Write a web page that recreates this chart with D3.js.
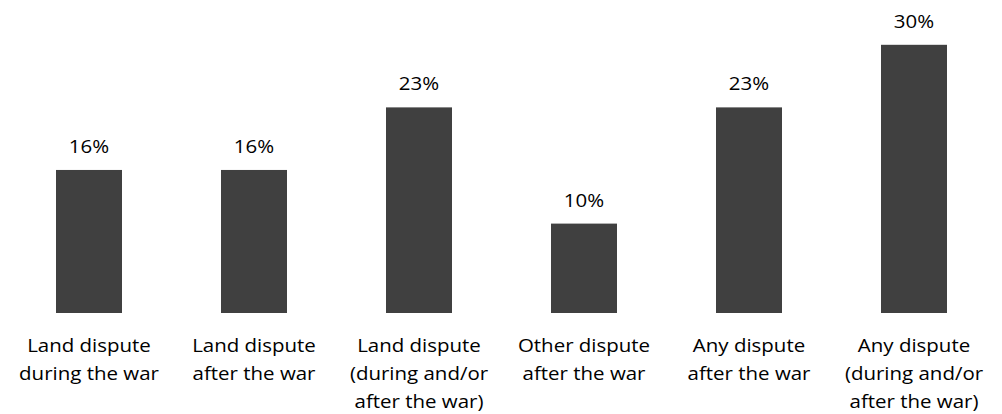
<!DOCTYPE html>
<html>
<head>
<meta charset="utf-8">
<script src="https://cdn.jsdelivr.net/npm/d3@7"></script>
<style>
  html, body { margin: 0; padding: 0; background: #fff; }
  svg { display: block; }
  text { font-family: "Open Sans", Lato, sans-serif; fill: #000; }
</style>
</head>
<body>
<svg id="chart" width="1002" height="414"></svg>
<script>
const categories = [
  ["Land dispute", "during the war"],
  ["Land dispute", "after the war"],
  ["Land dispute", "(during and/or", "after the war)"],
  ["Other dispute", "after the war"],
  ["Any dispute", "after the war"],
  ["Any dispute", "(during and/or", "after the war)"]
];
const values = [16, 16, 23, 10, 23, 30];
const valueLabels = ["16%", "16%", "23%", "10%", "23%", "30%"];

const W = 1002, H = 414;
const baseY = 313;
const pxPerPct = 8.94;
const stretch = 1.17;
const fontSize = 17.5;
const lineH = 28.3;

const svg = d3.select("#chart");
const ids = categories.map((c, i) => i);

const x = d3.scaleBand().domain(ids).range([6.5, 996.5]).paddingInner(0.6).paddingOuter(0.3);
const y = d3.scaleLinear().domain([0, 30]).range([baseY, baseY - 30 * pxPerPct]);

svg.append("g").selectAll("rect").data(values).join("rect")
  .attr("x", (d, i) => x(i))
  .attr("y", d => y(d))
  .attr("width", x.bandwidth())
  .attr("height", d => y(0) - y(d))
  .attr("fill", "#404040");

// value labels
svg.append("g").selectAll("g").data(values).join("g")
  .attr("transform", (d, i) => `translate(${x(i) + x.bandwidth() / 2},${y(d) - 17}) scale(${stretch},1)`)
  .append("text")
  .attr("text-anchor", "middle")
  .attr("font-size", fontSize)
  .text((d, i) => valueLabels[i]);

// category labels
const cat = svg.append("g").selectAll("g").data(categories).join("g")
  .attr("transform", (d, i) => `translate(${x(i) + x.bandwidth() / 2},${baseY + 38.7}) scale(${stretch},1)`);
cat.append("text")
  .attr("text-anchor", "middle")
  .attr("font-size", fontSize)
  .selectAll("tspan").data(d => d).join("tspan")
  .attr("x", 0)
  .attr("y", (d, j) => j * lineH)
  .text(d => d);
</script>
</body>
</html>
